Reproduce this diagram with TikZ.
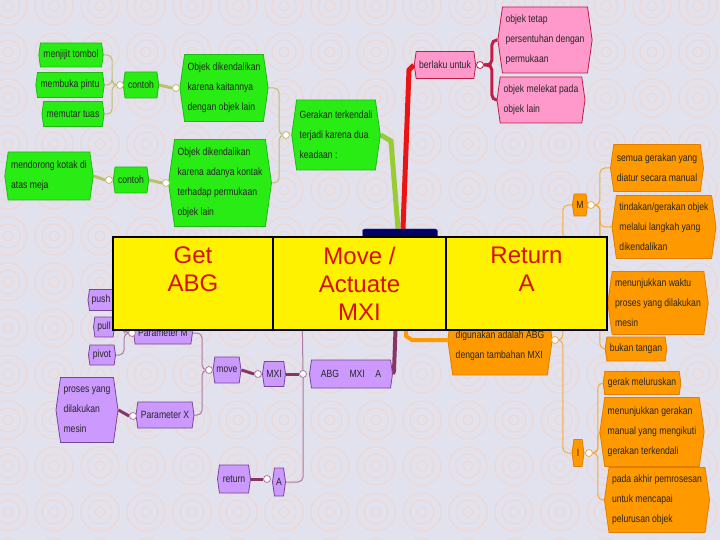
\documentclass[tikz,border=0pt]{standalone}
\usepackage{fontspec}
\setmainfont{Liberation Sans}
\newfontfamily\mapfont[FakeStretch=0.82]{Liberation Sans}
\usetikzlibrary{shapes.symbols,backgrounds}
\definecolor{paper}{RGB}{226,226,238}
\definecolor{ringcol}{RGB}{237,216,212}
\definecolor{gfill}{RGB}{40,236,20}
\definecolor{gedge}{RGB}{30,185,20}
\definecolor{gline}{RGB}{190,190,110}
\definecolor{gmain}{RGB}{153,204,51}
\definecolor{pfill}{RGB}{255,153,204}
\definecolor{pedge}{RGB}{190,30,70}
\definecolor{rmain}{RGB}{235,20,20}
\definecolor{ofill}{RGB}{255,153,0}
\definecolor{oedge}{RGB}{225,125,0}
\definecolor{oline}{RGB}{240,170,70}
\definecolor{vfill}{RGB}{204,153,255}
\definecolor{vedge}{RGB}{120,70,150}
\definecolor{vline}{RGB}{176,120,160}
\definecolor{vmain}{RGB}{136,52,100}
\definecolor{navy}{RGB}{0,0,102}
\definecolor{celltxt}{RGB}{215,15,5}
\pgfdeclarelayer{deep}
\pgfsetlayers{deep,background,main}
\tikzset{
  mapnode/.style={signal,signal to=west and east,signal pointer angle=164,
    inner xsep=3pt,inner ysep=1pt,align=left,line width=0.8pt,text=black!85,
    font=\mapfont\fontsize{10.5}{20}\selectfont},
  gnode/.style={mapnode,fill=gfill,draw=gedge},
  pnode/.style={mapnode,fill=pfill,draw=pedge},
  onode/.style={mapnode,fill=ofill,draw=oedge},
  vnode/.style={mapnode,fill=vfill,draw=vedge},
  knob/.style={circle,draw=#1,fill=white,inner sep=0pt,minimum size=7pt,line width=0.8pt},
  thinbranch/.style={draw=#1,line width=1pt,rounded corners=5pt},
  thickbranch/.style={draw=#1,line width=3pt},
  ring/.style={draw=ringcol,line width=1.3pt},
  cell/.style={draw=black,line width=2pt,fill=yellow,minimum height=93pt},
  celltext/.style={anchor=north,inner sep=0pt,align=center,text=celltxt,
    font=\fontsize{24}{28}\selectfont}
}
\begin{document}
\begin{tikzpicture}[x=1pt,y=-1pt]
\useasboundingbox (0,0) rectangle (720,540);
\begin{pgfonlayer}{deep}
\fill[paper] (0,0) rectangle (720,540);
\foreach \i in {0,...,16}{
  \foreach \j in {0,...,12}{
    \draw[ring] (\i*46+8,\j*46+6) circle (19pt) circle (12pt) circle (5pt);
  }
}
\end{pgfonlayer}

\node[draw=blue!40!gray,fill=navy,rounded corners=2pt,minimum width=75pt,minimum height=32pt] (root) at (400,245) {};

\node[gnode,minimum width=64pt,minimum height=24pt] (menjijit) at (71,55) {menjijit tombol};
\node[gnode,minimum width=64pt,minimum height=25pt] (membuka) at (70,85) {membuka pintu};
\node[gnode,minimum width=58pt,minimum height=25pt] (memutar) at (73,114) {memutar tuas};
\node[gnode,minimum width=33pt,minimum height=26pt] (contoha) at (141,85) {contoh};
\node[gnode,minimum width=88pt,minimum height=67pt] (objeka) at (224,88) {Objek dikendalikan\\karena kaitannya\\dengan objek lain};
\node[gnode,minimum width=87pt,minimum height=70pt] (gerakan) at (336,135) {Gerakan terkendali\\terjadi karena dua\\keadaan :};
\node[gnode,minimum width=96pt,minimum height=87pt] (objekb) at (220,183) {Objek dikendalikan\\karena adanya kontak\\terhadap permukaan\\objek lain};
\node[gnode,minimum width=33pt,minimum height=26pt] (contohb) at (131,180) {contoh};
\node[gnode,minimum width=88pt,minimum height=48pt] (mendorong) at (49,176) {mendorong kotak di\\atas meja};

\node[pnode,minimum width=60pt,minimum height=27pt] (berlaku) at (445,65) {berlaku untuk};
\node[pnode,minimum width=94pt,minimum height=66pt] (tetap) at (545,40) {objek tetap\\persentuhan dengan\\permukaan};
\node[pnode,minimum width=88pt,minimum height=46pt] (melekat) at (541,100) {objek melekat pada\\objek lain};

\node[onode,minimum width=104pt,minimum height=70pt] (digunakan) at (500,340) {\mbox{}\\digunakan adalah ABG\\dengan tambahan MXI};
\node[onode,minimum width=15pt,minimum height=22pt,inner xsep=1pt] (mm) at (580,205) {M};
\node[onode,minimum width=90pt,minimum height=47pt] (semua) at (657,168) {semua gerakan yang\\diatur secara manual};
\node[onode,minimum width=104pt,minimum height=63pt] (tindakan) at (664,227) {tindakan/gerakan objek\\melalui langkah yang\\dikendalikan};
\node[onode,minimum width=97pt,minimum height=63pt] (waktu) at (658,303) {menunjukkan waktu\\proses yang dilakukan\\mesin};
\node[onode,minimum width=53pt,minimum height=24pt] (tangan) at (636,349) {bukan tangan};
\node[onode,minimum width=12pt,minimum height=27pt,inner xsep=1pt] (ii) at (578,453) {I};
\node[onode,minimum width=71pt,minimum height=23pt] (gerak) at (642,383) {gerak meluruskan};
\node[onode,minimum width=91pt,minimum height=69pt] (manual) at (652,432) {menunjukkan gerakan\\manual yang mengikuti\\gerakan terkendali};
\node[onode,minimum width=100pt,minimum height=65pt] (akhir) at (657,500) {pada akhir pemrosesan\\untuk mencapai\\pelurusan objek};

\node[vnode,minimum width=26pt,minimum height=21pt,inner xsep=1pt] (push) at (101,300) {push};
\node[vnode,minimum width=21pt,minimum height=20pt,inner xsep=1pt] (pull) at (104,327) {pull};
\node[vnode,minimum width=27pt,minimum height=20pt,inner xsep=1pt] (pivot) at (102,355) {pivot};
\node[vnode,minimum width=57pt,minimum height=22pt] (parm) at (163,333) {Parameter M};
\node[vnode,minimum width=28pt,minimum height=26pt,inner xsep=1pt] (move) at (227,370) {move};
\node[vnode,minimum width=23pt,minimum height=25pt,inner xsep=1pt] (mxi) at (274,374) {MXI};
\node[vnode,minimum width=83pt,minimum height=28pt] (abg) at (351,374) {ABG\quad MXI\quad A};
\node[vnode,minimum width=55pt,minimum height=26pt] (parx) at (165,415) {Parameter X};
\node[vnode,minimum width=60pt,minimum height=65pt] (proses) at (87,410) {proses yang\\dilakukan\\mesin};
\node[vnode,minimum width=33pt,minimum height=28pt,inner xsep=1pt] (return) at (234,479) {return};
\node[vnode,minimum width=13pt,minimum height=28pt,inner xsep=1pt] (aa) at (279,482) {A};

\node[knob=gline] (kcontoha) at (120,85) {};
\node[knob=gline] (kobjeka) at (176,88) {};
\node[knob=gline] (kgerakan) at (286,135) {};
\node[knob=gline] (kobjekb) at (166,183) {};
\node[knob=gline] (kcontohb) at (109,180) {};
\node[knob=pedge] (kberlaku) at (480,65) {};
\node[knob=oline] (kdigunakan) at (555,340) {};
\node[knob=oline] (kmm) at (591,205) {};
\node[knob=oline] (kii) at (589,453) {};
\node[knob=vline] (kparm) at (132,333) {};
\node[knob=vline] (kmove) at (209,370) {};
\node[knob=vline] (kmxi) at (258,374) {};
\node[knob=vline] (kabg) at (303,374) {};
\node[knob=vline] (kparx) at (133,416) {};
\node[knob=vline] (kaa) at (267,479) {};
\coordinate (hidden) at (302,300);

\begin{pgfonlayer}{background}
\draw[gmain,line width=5pt] ([xshift=-2pt]root.north) -- (391,141) -- (gerakan.east);
\draw[rmain,line width=5pt] ([xshift=3pt]root.north) -- (409,70) -- (berlaku.west);
\draw[ofill,line width=4pt] ([xshift=6pt]root.south) -- (406,336) -- (412,340) -- (digunakan.west);
\draw[vmain,line width=4pt] ([xshift=-2pt]root.south) -- (394,371) -- (abg.east);

\foreach \leaf in {menjijit,membuka,memutar}
  \draw[thinbranch=gline] (kcontoha.west) -- ++(-4,0) |- (\leaf.east);
\draw[thickbranch=gline] (kobjeka.west) -- (contoha.east);
\draw[thinbranch=gline] (kgerakan.west) -- ++(-3,0) |- (objeka.east);
\draw[thinbranch=gline] (kgerakan.west) -- ++(-3,0) |- (objekb.east);
\draw[thickbranch=gline] (kobjekb.west) -- (contohb.east);
\draw[thickbranch=gline] (kcontohb.west) -- (mendorong.east);

\foreach \leaf in {tetap,melekat}
  \draw[thinbranch=pedge,line width=3pt] (kberlaku.east) -- ++(8,0) |- (\leaf.west);

\foreach \leaf in {mm,ii}
  \draw[thinbranch=oline] (kdigunakan.east) -- ++(4,0) |- (\leaf.west);
\foreach \leaf in {semua,tindakan,waktu,tangan}
  \draw[thinbranch=oline] (kmm.east) -- ++(5,0) |- (\leaf.west);
\foreach \leaf in {gerak,manual,akhir}
  \draw[thinbranch=oline] (kii.east) -- ++(5,0) |- (\leaf.west);

\foreach \leaf in {push,pull,pivot}
  \draw[thinbranch=vline] (kparm.west) -- ++(-4,0) |- (\leaf.east);
\draw[thickbranch=vmain] (kparx.west) -- (proses.east);
\draw[thinbranch=vline] (kmove.west) -- ++(-3,0) |- (parm.east);
\draw[thinbranch=vline] (kmove.west) -- ++(-3,0) |- (parx.east);
\draw[thickbranch=vmain] (kmxi.west) -- (move.east);
\draw[thickbranch=vmain] (kabg.west) -- (mxi.east);
\draw[thinbranch=vline] (kabg.center) -- (hidden);
\draw[thinbranch=vline] (kabg.center) |- (aa.east);
\draw[thickbranch=vmain] (kaa.west) -- (return.east);
\end{pgfonlayer}

\node[cell,minimum width=160pt] (getcell) at (193,283.5) {};
\node[cell,minimum width=173pt] (movecell) at (359.5,283.5) {};
\node[cell,minimum width=161pt] (retcell) at (526.5,283.5) {};
\node[celltext] (gettext) at ([yshift=-10.5pt]getcell.north) {Get\\ABG};
\node[celltext] (movetext) at ([yshift=-10.5pt]movecell.north) {Move /\\Actuate\\MXI};
\node[celltext] (rettext) at ([yshift=-10.5pt]retcell.north) {Return\\A};
\end{tikzpicture}
\end{document}
